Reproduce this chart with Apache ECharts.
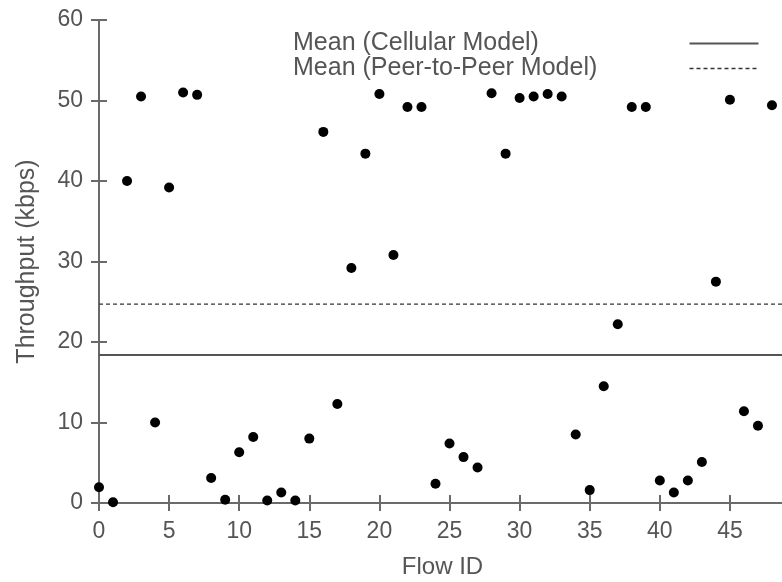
<!DOCTYPE html>
<html>
<head>
<meta charset="utf-8">
<script src="https://cdn.jsdelivr.net/npm/echarts@6/dist/echarts.min.js"></script>
<style>
html,body{margin:0;padding:0;background:#fff;}
#chart{width:782px;height:582px;}
</style>
</head>
<body>
<div id="chart"></div>
<script>
const flowIds = [0,1,2,3,4,5,6,7,8,9,10,11,12,13,14,15,16,17,18,19,20,21,22,23,24,25,26,27,28,29,30,31,32,33,34,35,36,37,38,39,40,41,42,43,44,45,46,47,48];
const throughput = [1.95,0.1,40.0,50.5,10.0,39.2,51.0,50.7,3.1,0.4,
  6.3,8.2,0.3,1.3,0.3,8.0,46.1,12.3,29.2,43.4,
  50.8,30.8,49.2,49.2,2.4,7.4,5.7,4.4,50.9,43.4,
  50.3,50.5,50.8,50.5,8.5,1.6,14.5,22.2,49.2,49.2,
  2.8,1.3,2.8,5.1,27.5,50.1,11.4,9.6,49.4];
const meanCellular = 18.4;
const meanP2P = 24.7;
const seriesNames = ['Mean (Cellular Model)', 'Mean (Peer-to-Peer Model)'];
const xName = 'Flow ID';
const yName = 'Throughput (kbps)';
const xMin = 0, xMax = 49, xStep = 5;
const yMin = 0, yMax = 60, yStep = 10;

const axisColor = '#6a6a6a';
const textColor = '#555';
const font = 'Liberation Sans, Arial, sans-serif';
const solidStyle = {color: '#555', width: 2};
const dashStyle = {color: '#333', width: 1.3, type: [4, 3]};

const chart = echarts.init(document.getElementById('chart'), null, {renderer: 'canvas'});
const baseAxisLine = {show: true, lineStyle: {color: axisColor, width: 2}};
const baseTick = {show: true, inside: true, length: 8, lineStyle: {color: axisColor, width: 2}};

function legendRow(name, style, y) {
  return [{
    type: 'text', left: 293, top: y - 10,
    style: {text: name, fill: textColor, fontSize: 25, fontFamily: font}
  }, {
    type: 'line', left: 687, top: y,
    shape: {x1: 0, y1: 0, x2: 69, y2: 0},
    style: {stroke: style.color, lineWidth: style.width, lineDash: Array.isArray(style.type) ? style.type : null}
  }];
}

chart.setOption({
  animation: false,
  backgroundColor: '#fff',
  grid: {left: 99, top: 20, right: -4, bottom: 79, containLabel: false, outerBoundsMode: 'none'},
  graphic: [].concat(legendRow(seriesNames[0], solidStyle, 41), legendRow(seriesNames[1], dashStyle, 66)),
  xAxis: [{
    type: 'value', min: xMin, max: xMax, interval: xStep,
    name: xName, nameLocation: 'middle', nameGap: 52,
    nameTextStyle: {color: textColor, fontSize: 24, fontFamily: font},
    axisLine: baseAxisLine, axisTick: baseTick,
    axisLabel: {color: textColor, fontSize: 23, fontFamily: font, margin: 17, showMaxLabel: false},
    splitLine: {show: false}
  }, {
    type: 'value', position: 'top', min: xMin, max: xMax, interval: xStep,
    axisLine: baseAxisLine, axisTick: baseTick,
    axisLabel: {show: false}, splitLine: {show: false}
  }],
  yAxis: [{
    type: 'value', min: yMin, max: yMax, interval: yStep,
    name: yName, nameLocation: 'middle', nameGap: 59,
    nameTextStyle: {color: textColor, fontSize: 25, fontFamily: font},
    axisLine: baseAxisLine, axisTick: baseTick,
    axisLabel: {color: textColor, fontSize: 23, fontFamily: font, margin: 16},
    splitLine: {show: false}
  }, {
    type: 'value', position: 'right', min: yMin, max: yMax, interval: yStep,
    axisLine: baseAxisLine, axisTick: baseTick,
    axisLabel: {show: false}, splitLine: {show: false}
  }],
  series: [{
    type: 'scatter',
    name: 'Flows',
    data: flowIds.map((id, i) => [id, throughput[i]]),
    symbol: 'circle',
    symbolSize: 10,
    itemStyle: {color: '#000', opacity: 1},
    clip: false
  }, {
    type: 'line',
    name: seriesNames[0],
    data: [[xMin, meanCellular], [xMax, meanCellular]],
    symbol: 'none',
    lineStyle: solidStyle
  }, {
    type: 'line',
    name: seriesNames[1],
    data: [[xMin, meanP2P], [xMax, meanP2P]],
    symbol: 'none',
    lineStyle: dashStyle
  }]
});
</script>
</body>
</html>
